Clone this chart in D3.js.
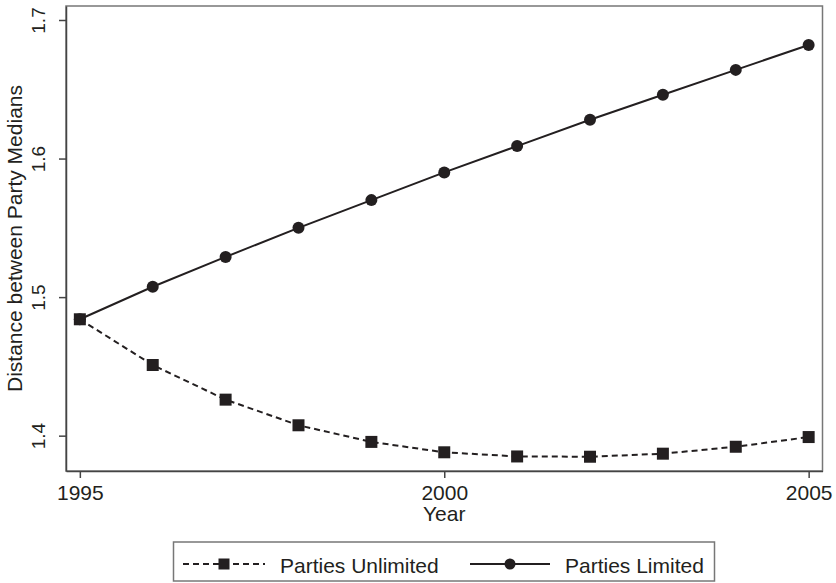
<!DOCTYPE html>
<html>
<head>
<meta charset="utf-8">
<script src="https://cdn.jsdelivr.net/npm/d3@7/dist/d3.min.js"></script>
<style>
	body { margin: 0; background: #fff; }
	svg { display: block; font-family: "Liberation Sans", Arial, Helvetica, sans-serif; }
</style>
</head>
<body>
<div id="chart"></div>
<script>

var years = [1995, 1996, 1997, 1998, 1999, 2000, 2001, 2002, 2003, 2004, 2005];
var partiesUnlimited = [1.484, 1.451, 1.426, 1.4075, 1.3955, 1.388, 1.385, 1.3848, 1.387, 1.392, 1.399];
var partiesLimited = [1.484, 1.5075, 1.529, 1.550, 1.570, 1.590, 1.609, 1.628, 1.646, 1.664, 1.682];
var xTicks = [1995, 2000, 2005];
var yTicks = [1.4, 1.5, 1.6, 1.7];

var config = {
	width : 836,
	height : 583,
	left : 66,
	right : 822.5,
	top : 6,
	bottom : 471,
	ink : "#231f20",
	axis : "#444",
	frame : "#777",
	fontSize : 21,
	markerSize : 12,
	tickLen : 7
};

var svg = d3.select("#chart").append("svg")
	.attr("width", config.width)
	.attr("height", config.height);

var x = d3.scaleLinear()
	.domain([1994.81, 2005.19])
	.range([config.left, config.right]);

var y = d3.scaleLinear()
	.domain([1.3745, 1.7101])
	.range([config.bottom, config.top]);

// plot region outline (top and right are lighter)
svg.append("rect")
	.attr("x", config.left)
	.attr("y", config.top)
	.attr("width", config.right - config.left)
	.attr("height", config.bottom - config.top)
	.attr("fill", "none")
	.attr("stroke", config.frame)
	.attr("stroke-width", 1.5);

// x axis
var xAxis = svg.append("g")
	.attr("transform", "translate(0," + config.bottom + ")")
	.call(d3.axisBottom(x).tickValues(xTicks).tickFormat(d3.format("d"))
		.tickSize(config.tickLen).tickSizeOuter(0).tickPadding(6));

xAxis.select(".domain").attr("stroke", config.axis).attr("stroke-width", 1.5);
xAxis.selectAll(".tick line").attr("stroke", config.axis).attr("stroke-width", 1.5);
xAxis.selectAll(".tick text")
	.attr("fill", config.ink)
	.attr("font-size", config.fontSize)
	.attr("dy", null)
	.attr("y", 29);

// y axis
var yAxis = svg.append("g")
	.attr("transform", "translate(" + config.left + ",0)")
	.call(d3.axisLeft(y).tickValues(yTicks).tickFormat(d3.format(".1f"))
		.tickSize(config.tickLen).tickSizeOuter(0));

yAxis.select(".domain").attr("stroke", config.axis).attr("stroke-width", 1.5);
yAxis.selectAll(".tick line").attr("stroke", config.axis).attr("stroke-width", 1.5);
yAxis.selectAll(".tick text")
	.attr("fill", config.ink)
	.attr("font-size", 19)
	.attr("x", null)
	.attr("dy", null)
	.attr("text-anchor", "middle")
	.attr("transform", "translate(-21,0) rotate(-90)");

// axis titles
svg.append("text")
	.attr("x", (config.left + config.right) / 2)
	.attr("y", 521)
	.attr("text-anchor", "middle")
	.attr("font-size", config.fontSize)
	.attr("fill", config.ink)
	.text("Year");

svg.append("text")
	.attr("transform", "translate(22," + ((config.top + config.bottom) / 2) + ") rotate(-90)")
	.attr("text-anchor", "middle")
	.attr("font-size", config.fontSize)
	.attr("fill", config.ink)
	.text("Distance between Party Medians");

// series
var series = [
	{ label : "Parties Unlimited", values : partiesUnlimited, dash : "6,4", marker : "square" },
	{ label : "Parties Limited", values : partiesLimited, dash : null, marker : "circle" }
];

var line = d3.line()
	.x(function(d) { return x(d.year); })
	.y(function(d) { return y(d.value); });

function drawMarker(sel, type, size) {
	if (type === "square") {
		sel.append("rect")
			.attr("x", -size / 2)
			.attr("y", -size / 2)
			.attr("width", size)
			.attr("height", size)
			.attr("fill", config.ink);
	} else {
		sel.append("circle")
			.attr("r", size / 2)
			.attr("fill", config.ink);
	}
}

series.forEach(function(s) {
	var pts = years.map(function(yr, i) { return { year : yr, value : s.values[i] }; });

	svg.append("path")
		.datum(pts)
		.attr("d", line)
		.attr("fill", "none")
		.attr("stroke", config.ink)
		.attr("stroke-width", 2)
		.attr("stroke-dasharray", s.dash);

	svg.append("g").selectAll("g")
		.data(pts)
		.enter().append("g")
		.attr("transform", function(d) { return "translate(" + x(d.year) + "," + y(d.value) + ")"; })
		.each(function() { drawMarker(d3.select(this), s.marker, config.markerSize); });
});

// legend
var legend = svg.append("g");

legend.append("rect")
	.attr("x", 173.5)
	.attr("y", 542)
	.attr("width", 541)
	.attr("height", 39)
	.attr("fill", "#fff")
	.attr("stroke", config.frame)
	.attr("stroke-width", 1.5);

var legendItems = [
	{ s : series[0], x1 : 183, x2 : 265, text : 280 },
	{ s : series[1], x1 : 470, x2 : 550, text : 565 }
];

legendItems.forEach(function(it) {
	var ly = 564;
	legend.append("line")
		.attr("x1", it.x1).attr("x2", it.x2)
		.attr("y1", ly).attr("y2", ly)
		.attr("stroke", config.ink)
		.attr("stroke-width", 2)
		.attr("stroke-dasharray", it.s.dash);

	var m = legend.append("g")
		.attr("transform", "translate(" + ((it.x1 + it.x2) / 2) + "," + ly + ")");
	drawMarker(m, it.s.marker, 11);

	legend.append("text")
		.attr("x", it.text)
		.attr("y", 573)
		.attr("font-size", config.fontSize)
		.attr("fill", config.ink)
		.text(it.s.label);
});

</script>
</body>
</html>
